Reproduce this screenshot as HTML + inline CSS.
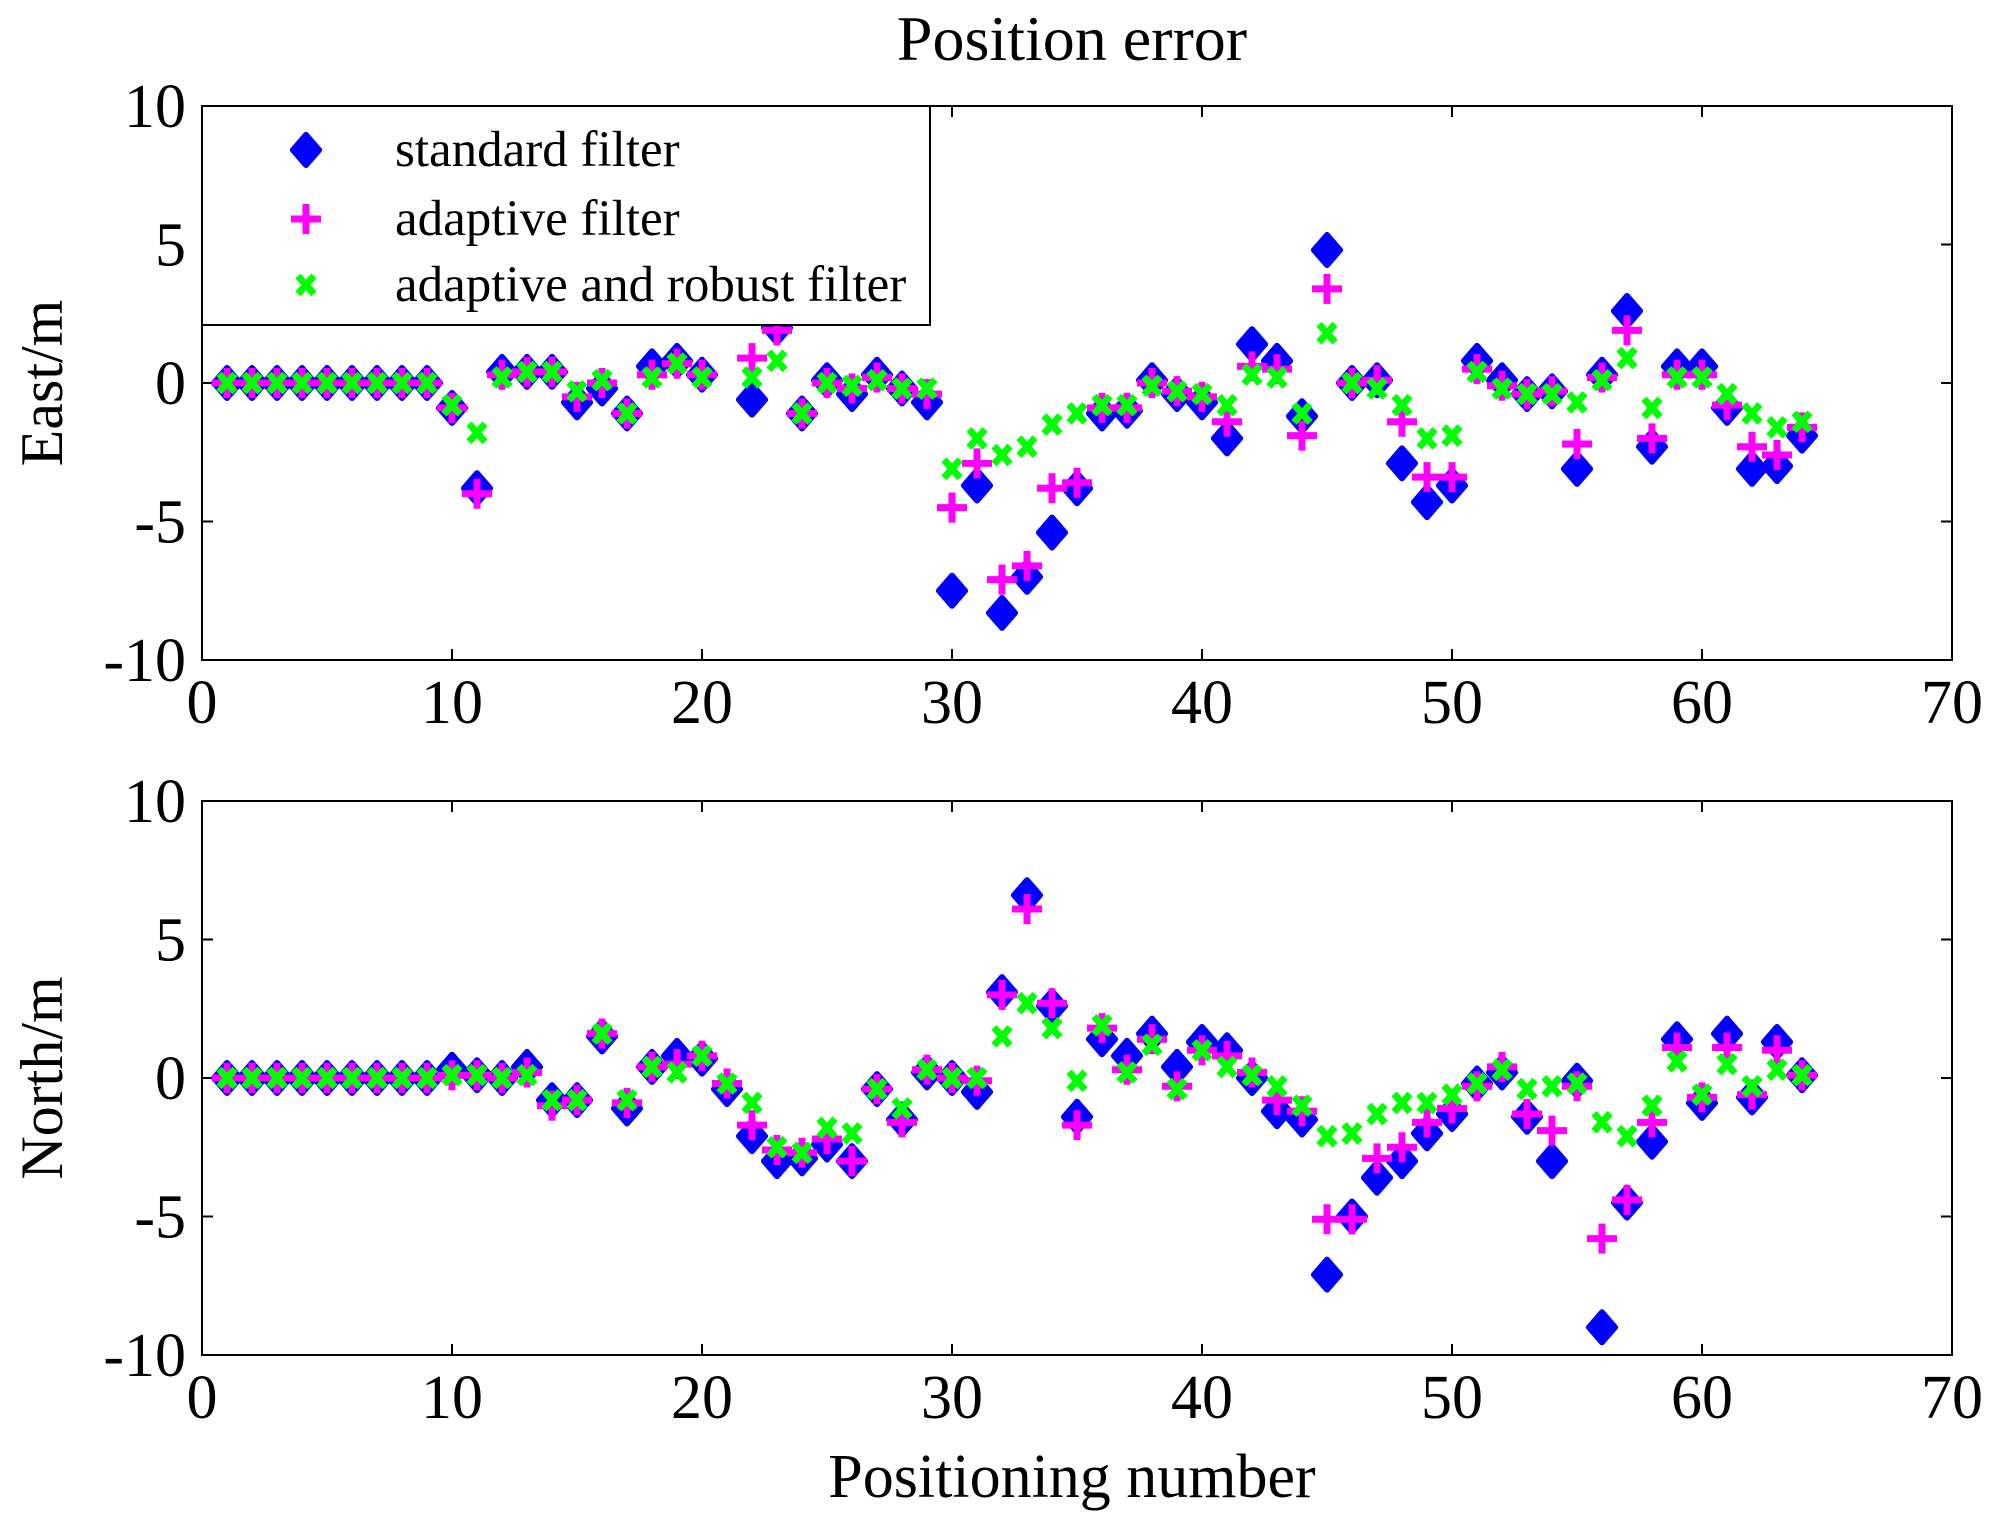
<!DOCTYPE html>
<html><head><meta charset="utf-8"><style>
html,body{margin:0;padding:0;background:#fff;}
svg{display:block;font-family:"Liberation Serif","DejaVu Serif",serif;}
</style></head><body>
<svg id="chart" width="2001" height="1528" viewBox="0 0 2001 1528" xmlns="http://www.w3.org/2000/svg">
<rect width="2001" height="1528" fill="#fff"/>
<text x="1072" y="60" font-size="64" text-anchor="middle">Position error</text>
<text x="1072" y="1497" font-size="62" text-anchor="middle">Positioning number</text>
<g id="plots"></g>
</svg>
<script>
const xTicks=[0,10,20,30,40,50,60,70];
const yTicks=[10,5,0,-5,-10];
const eastStd=[0,0,0,0,0,0,0,0,0,-0.9,-3.8,0.4,0.4,0.4,-0.7,-0.2,-1.1,0.6,0.8,0.3,null,-0.6,2.0,-1.1,0.1,-0.4,0.3,-0.2,-0.7,-7.5,-3.7,-8.3,-7.0,-5.4,-3.8,-1.1,-1.0,0.1,-0.4,-0.7,-2.0,1.4,0.8,-1.2,4.8,0.0,0.1,-2.9,-4.3,-3.7,0.8,0.1,-0.4,-0.3,-3.1,0.3,2.6,-2.3,0.6,0.6,-0.9,-3.1,-3.0,-1.9];
const eastAdp=[0,0,0,0,0,0,0,0,0,-0.9,-4.0,0.3,0.4,0.4,-0.5,0.0,-1.1,0.3,0.7,0.3,null,0.9,1.9,-1.1,0.0,-0.2,0.2,-0.2,-0.4,-4.5,-2.9,-7.1,-6.6,-3.8,-3.6,-0.9,-0.9,0.0,-0.3,-0.5,-1.4,0.6,0.5,-1.9,3.4,0.0,0.1,-1.4,-3.4,-3.4,0.5,-0.1,-0.4,-0.3,-2.2,0.2,1.9,-2.0,0.3,0.3,-0.8,-2.3,-2.6,-1.6];
const eastRob=[0,0,0,0,0,0,0,0,0,-0.8,-1.8,0.2,0.4,0.4,-0.3,0.1,-1.1,0.2,0.7,0.2,null,0.2,0.8,-1.1,0.0,-0.1,0.1,-0.2,-0.2,-3.1,-2.0,-2.6,-2.3,-1.5,-1.1,-0.8,-0.8,-0.1,-0.3,-0.4,-0.8,0.3,0.2,-1.1,1.8,0.0,-0.2,-0.8,-2.0,-1.9,0.4,-0.2,-0.4,-0.4,-0.7,0.1,0.9,-0.9,0.2,0.2,-0.4,-1.1,-1.6,-1.4];
const northStd=[0,0,0,0,0,0,0,0,0,0.3,0.1,0,0.4,-0.8,-0.8,1.5,-1.1,0.4,0.8,0.7,-0.4,-2.1,-3.0,-2.9,-2.4,-3.0,-0.4,-1.5,0.2,0.0,-0.5,3.1,6.6,2.6,-1.4,1.4,0.8,1.6,0.4,1.3,1.0,0.0,-1.2,-1.5,-7.1,-5.0,-3.6,-3.0,-2.0,-1.3,-0.2,0.2,-1.4,-3.0,-0.1,-9.0,-4.5,-2.3,1.4,-0.9,1.6,-0.7,1.3,0.1];
const northAdp=[0,0,0,0,0,0,0,0,0,0.1,0.1,0,0.2,-1.0,-0.8,1.6,-0.9,0.4,0.5,0.8,-0.2,-1.7,-2.6,-2.7,-2.2,-3.0,-0.4,-1.6,0.3,0.0,-0.1,3.0,6.1,2.7,-1.7,1.8,0.3,1.4,-0.3,1.0,0.8,0.2,-0.8,-1.2,-5.1,-5.1,-2.9,-2.5,-1.6,-1.1,-0.3,0.4,-1.3,-1.9,-0.3,-5.8,-4.4,-1.6,1.1,-0.7,1.1,-0.6,1.0,0.1];
const northRob=[0,0,0,0,0,0,0,0,0,0.1,0.1,0,0.1,-0.8,-0.8,1.6,-0.8,0.4,0.2,0.8,-0.2,-0.9,-2.5,-2.7,-1.8,-2.0,-0.4,-1.1,0.3,0.0,0.0,1.5,2.7,1.8,-0.1,1.9,0.2,1.2,-0.4,1.0,0.4,0.1,-0.3,-1.0,-2.1,-2.0,-1.3,-0.9,-0.9,-0.6,-0.2,0.3,-0.4,-0.3,-0.2,-1.6,-2.1,-1.0,0.6,-0.6,0.5,-0.3,0.3,0.1];

const NS="http://www.w3.org/2000/svg";
const root=document.getElementById('plots');
function mk(tag,attrs,parent){const e=document.createElementNS(NS,tag);for(const k in attrs)e.setAttribute(k,attrs[k]);(parent||root).appendChild(e);return e;}
const X0=202,X1=1952;
function xs(v){return X0+(v-0)/(70-0)*(X1-X0);}

function panel(name,top,bottom,label,std,adp,rob,legend){
  const g=mk('g',{});
  
  
  const ys=v=>top+(10-v)/20*(bottom-top);
  const frame=mk('rect',{x:X0,y:top,width:X1-X0,height:bottom-top,fill:'none',stroke:'#000','stroke-width':2},g);
  
  
  xTicks.forEach(t=>{
    const x=xs(t);
    mk('line',{x1:x,y1:bottom,x2:x,y2:bottom-11,stroke:'#000','stroke-width':2},g);
    mk('line',{x1:x,y1:top,x2:x,y2:top+11,stroke:'#000','stroke-width':2},g);
    const tl=mk('text',{x:x,y:bottom+63,'font-size':62,'text-anchor':'middle'},g);
    tl.textContent=t;
    
    
  });
  yTicks.forEach(t=>{
    const y=ys(t);
    mk('line',{x1:X0,y1:y,x2:X0+11,y2:y,stroke:'#000','stroke-width':2},g);
    mk('line',{x1:X1,y1:y,x2:X1-11,y2:y,stroke:'#000','stroke-width':2},g);
    const tl=mk('text',{x:186,y:y+21,'font-size':62,'text-anchor':'end'},g);
    tl.textContent=t;
    
    
  });
  const yl=mk('text',{x:0,y:0,'font-size':60,'text-anchor':'middle',transform:`translate(62,${(top+bottom)/2}) rotate(-90)`},g);
  yl.textContent=label;
  
  
  const sg=mk('g',{},g);
  
  
  std.forEach((v,i)=>{if(v===null)return;const m=diamond(xs(i+1),ys(v),sg);});
  const ag=mk('g',{},g);
  
  
  adp.forEach((v,i)=>{if(v===null)return;const m=plus(xs(i+1),ys(v),ag);});
  const rg=mk('g',{},g);
  
  
  rob.forEach((v,i)=>{if(v===null)return;const m=cross(xs(i+1),ys(v),rg);});
  if(legend){
    const lg=mk('g',{},g);
    
    
    mk('rect',{x:X0,y:top,width:728,height:219,fill:'#fff',stroke:'#000','stroke-width':2},lg);
    const items=[['standard filter',diamond,150],['adaptive filter',plus,219],['adaptive and robust filter',cross,285]];
    items.forEach(([t,f,y])=>{
      const m=f(306,y,lg);
      
      
      const tx=mk('text',{x:395,y:y+16,'font-size':51},lg);
      tx.textContent=t;
      
      
    });
  }
}
function diamond(x,y,p){return mk('polygon',{points:`${x},${y-15} ${x+13},${y} ${x},${y+15} ${x-13},${y}`,fill:'#0000ff',stroke:'#0000ff','stroke-width':6,'stroke-linejoin':'round'},p);}
function plus(x,y,p){return mk('path',{d:`M${x-15},${y}H${x+15}M${x},${y-15}V${y+15}`,stroke:'#ff00ff','stroke-width':7,fill:'none'},p);}
function cross(x,y,p){return mk('path',{d:`M${x-8},${y-9}L${x+8},${y+9}M${x+8},${y-9}L${x-8},${y+9}`,stroke:'#00ff00','stroke-width':7,fill:'none'},p);}

panel('east',106,660,'East/m',eastStd,eastAdp,eastRob,true);
panel('north',801,1355,'North/m',northStd,northAdp,northRob,false);
</script>
</body></html>
